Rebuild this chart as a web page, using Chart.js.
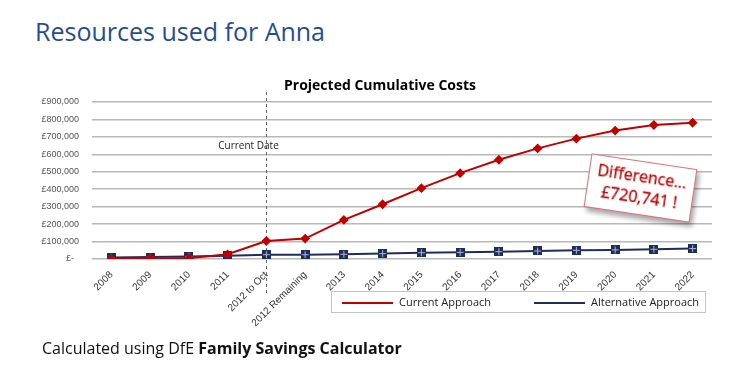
<!DOCTYPE html>
<html>
<head>
<meta charset="utf-8">
<script src="https://cdn.jsdelivr.net/npm/chart.js@4"></script>
<style>
  body { margin: 0; background: #fff; width: 744px; height: 380px; overflow: hidden; position: relative; font-family: "Open Sans", sans-serif; }
  #chart { position: absolute; left: 0; top: 0; }
  .heading { position: absolute; left: 35px; top: 14px; font-size: 25px; color: #1f4e96; white-space: nowrap; }
  .footer { position: absolute; left: 42px; top: 337px; font-size: 16px; color: #111; white-space: nowrap; }
  .diff { position: absolute; left: 587px; top: 161px; width: 107px; height: 54px; box-sizing: border-box;
          border: 1px solid #e07070; background: #fff; transform: rotate(8.5deg);
          box-shadow: 3px 4px 5px rgba(0,0,0,0.35); color: #c00000; font-size: 16px; font-weight: 500;
          text-align: center; line-height: 21px; padding-top: 4px; -webkit-text-stroke: 0.3px #c00000; }
  #legend { position: absolute; left: 331px; top: 291px; width: 375px; height: 22px; box-sizing: border-box;
            border: 1px solid #c4c4c4; font-size: 11px; color: #222; }
  #legend .item { position: absolute; top: 0; height: 20px; line-height: 20px; white-space: nowrap; }
  #legend .swatch { display: inline-block; width: 51px; height: 2px; vertical-align: middle; margin-right: 6px; }
</style>
</head>
<body>
<div class="heading">Resources used for Anna</div>
<canvas id="chart" width="744" height="380"></canvas>
<div id="legend"></div>
<div class="diff">Difference...<br>£720,741 !</div>
<div class="footer">Calculated using DfE <b>Family Savings Calculator</b></div>

<script>
const categories = ['2008', '2009', '2010', '2011', '2012 to Oct', '2012 Remaining', '2013', '2014',
    '2015', '2016', '2017', '2018', '2019', '2020', '2021', '2022'];
const currentApproach = [0, 4000, 5000, 27000, 103000, 117000, 224000, 314000,
    406000, 492000, 569000, 634000, 690000, 736000, 768000, 781000];
const alternativeApproach = [8000, 11000, 15000, 19000, 25000, 25000, 27000, 31000,
    36000, 38000, 42000, 46000, 50000, 52000, 56000, 60000];
const yTicks = [0, 100000, 200000, 300000, 400000, 500000, 600000, 700000, 800000, 900000];
const currentDateIndex = 4;

const RED = '#c00000';
const NAVY = '#1f2d5c';

// square marker with a light cross, like the Excel one
function makeSquareMarker() {
    const c = document.createElement('canvas');
    c.width = 9; c.height = 9;
    const g = c.getContext('2d');
    g.fillStyle = NAVY;
    g.fillRect(0, 0, 9, 9);
    g.fillStyle = '#a9b6d3';
    g.fillRect(4, 1, 1, 7);
    g.fillRect(1, 4, 7, 1);
    return c;
}

const extras = {
    id: 'extras',
    beforeDatasetsDraw(chart) {
        const ctx = chart.ctx;
        const x = Math.round(chart.scales.x.getPixelForValue(currentDateIndex)) + 0.5;
        ctx.save();
        ctx.strokeStyle = '#666';
        ctx.lineWidth = 1;
        ctx.setLineDash([3, 3]);
        ctx.beginPath();
        ctx.moveTo(x, 92);
        ctx.lineTo(x, 293);
        ctx.stroke();
        ctx.setLineDash([]);
        ctx.fillStyle = '#222';
        ctx.font = '10px "Open Sans"';
        ctx.textAlign = 'center';
        ctx.textBaseline = 'middle';
        ctx.fillText('Current Date', x - 18, 146);
        ctx.restore();
    },
    afterDraw(chart) {
        const ctx = chart.ctx;
        ctx.save();
        ctx.fillStyle = '#000';
        ctx.font = 'bold 14px "Open Sans"';
        ctx.textAlign = 'center';
        ctx.textBaseline = 'middle';
        ctx.fillText('Projected Cumulative Costs', 380, 86);
        ctx.restore();
    }
};

const chart = new Chart(document.getElementById('chart').getContext('2d'), {
    type: 'line',
    data: {
        labels: categories,
        datasets: [
            {
                label: 'Current Approach',
                data: currentApproach,
                borderColor: RED,
                backgroundColor: RED,
                borderWidth: 2,
                pointStyle: 'rectRot',
                pointRadius: 3.5,
                tension: 0
            },
            {
                label: 'Alternative Approach',
                data: alternativeApproach,
                borderColor: NAVY,
                backgroundColor: NAVY,
                borderWidth: 2,
                pointStyle: makeSquareMarker(),
                pointRadius: 4,
                tension: 0
            }
        ]
    },
    options: {
        responsive: false,
        animation: false,
        devicePixelRatio: 1,
        layout: { padding: { top: 102, right: 32, left: 0, bottom: 0 } },
        plugins: {
            legend: { display: false },
            tooltip: { enabled: false }
        },
        scales: {
            x: {
                offset: true,
                afterFit(s) { s.height = 121; },
                grid: { display: false },
                border: { display: false },
                ticks: {
                    autoSkip: false,
                    minRotation: 45,
                    maxRotation: 45,
                    padding: 2,
                    color: '#333',
                    font: { family: 'Arial', size: 10 }
                }
            },
            y: {
                min: 0,
                max: 900000,
                afterFit(s) { s.width = 92; },
                afterBuildTicks(s) { s.ticks = yTicks.map(v => ({ value: v })); },
                border: { display: false },
                grid: { color: '#b8b8b8', lineWidth: 1.5, drawTicks: false },
                ticks: {
                    padding: 13,
                    color: '#555',
                    font: { family: 'Arial', size: 9 },
                    callback: v => v === 0 ? '£-  ' : '£' + v.toLocaleString('en-GB')
                }
            }
        }
    },
    plugins: [extras]
});

// legend built from the datasets
const legendEl = document.getElementById('legend');
const legendX = [10, 202];
chart.data.datasets.forEach((ds, i) => {
    const item = document.createElement('div');
    item.className = 'item';
    item.style.left = legendX[i] + 'px';
    item.innerHTML = '<span class="swatch" style="background:' + ds.borderColor + '"></span>' + ds.label;
    legendEl.appendChild(item);
});
</script>
</body>
</html>
